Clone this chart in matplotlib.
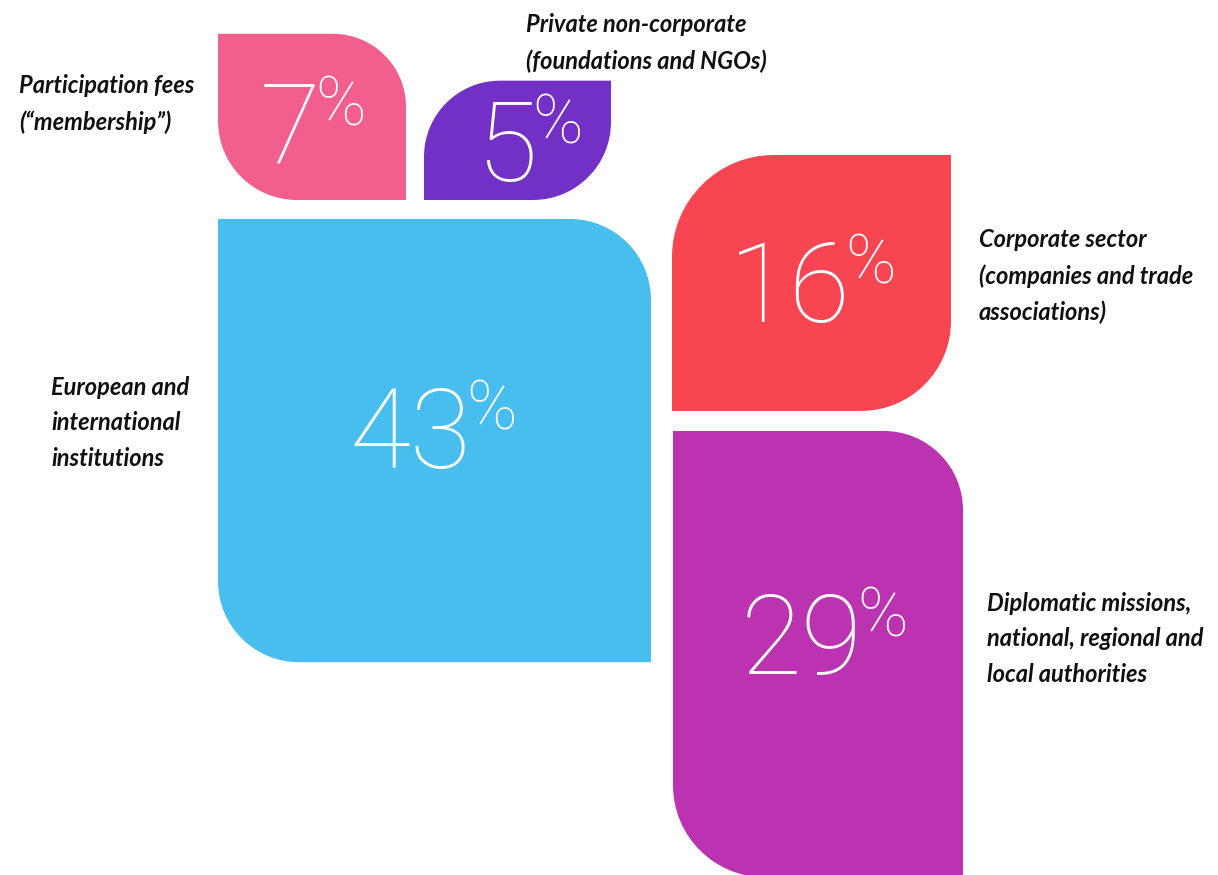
import matplotlib
matplotlib.use("Agg")
import matplotlib.pyplot as plt
from matplotlib.path import Path
from matplotlib.patches import PathPatch

# ---------------- data ----------------
categories = [
    "Participation fees\n(\u201cmembership\u201d)",
    "Private non-corporate\n(foundations and NGOs)",
    "European and\ninternational\ninstitutions",
    "Corporate sector\n(companies and trade\nassociations)",
    "Diplomatic missions,\nnational, regional and\nlocal authorities",
]
shares = [7, 5, 43, 16, 29]   # percent

# ---------------- style / layout ----------------
colors = ["#F25F8D", "#7230C6", "#48BEEE", "#F74552", "#BB33B0"]
W, H = 1218, 875
AREA_PER_PCT = 4463.0          # px^2 per percentage point (area-proportional tiles)
# left, width, anchor ('top'/'bottom'), anchor y, corner kind, r1, r2
layout = [
    dict(left=218, width=188, anchor="bottom", ay=200, kind="trbl", r1=73, r2=79),
    dict(left=424, width=187, anchor="bottom", ay=200, kind="tlbr", r1=76, r2=78),
    dict(left=218, width=433, anchor="top", ay=219, kind="trbl", r1=81, r2=81),
    dict(left=672, width=279, anchor="top", ay=155, kind="tlbr", r1=102, r2=90),
    dict(left=673, width=290, anchor="top", ay=431, kind="trbl", r1=79, r2=92),
]
# number label centre offsets from the tile centre
num_offsets = [(1, 8), (12, 2), (-1, -12), (1, 0), (6, -19)]
# category label anchor (left x, centre y)
cat_pos = [(19, 104), (526, 43), (51, 423), (979, 276), (987, 639)]

K = 0.5523


def leaf_path(x0, y0, w, h, r1, r2, kind):
    if kind == "trbl":
        verts = [
            (x0, y0),
            (x0 + w - r1, y0),
            (x0 + w - r1 + K * r1, y0), (x0 + w, y0 + r1 - K * r1), (x0 + w, y0 + r1),
            (x0 + w, y0 + h),
            (x0 + r2, y0 + h),
            (x0 + r2 - K * r2, y0 + h), (x0, y0 + h - r2 + K * r2), (x0, y0 + h - r2),
            (x0, y0),
        ]
        codes = [Path.MOVETO, Path.LINETO, Path.CURVE4, Path.CURVE4, Path.CURVE4,
                 Path.LINETO, Path.LINETO, Path.CURVE4, Path.CURVE4, Path.CURVE4,
                 Path.CLOSEPOLY]
    else:
        verts = [
            (x0, y0 + r1),
            (x0, y0 + r1 - K * r1), (x0 + r1 - K * r1, y0), (x0 + r1, y0),
            (x0 + w, y0),
            (x0 + w, y0 + h - r2),
            (x0 + w, y0 + h - r2 + K * r2), (x0 + w - r2 + K * r2, y0 + h), (x0 + w - r2, y0 + h),
            (x0, y0 + h),
            (x0, y0 + r1),
        ]
        codes = [Path.MOVETO, Path.CURVE4, Path.CURVE4, Path.CURVE4,
                 Path.LINETO, Path.LINETO, Path.CURVE4, Path.CURVE4, Path.CURVE4,
                 Path.LINETO, Path.CLOSEPOLY]
    return Path(verts, codes)


fig = plt.figure(figsize=(W / 100, H / 100), dpi=100)
fig.patch.set_facecolor("white")
ax = fig.add_axes([0, 0, 1, 1])
ax.set_xlim(0, W)
ax.set_ylim(H, 0)
ax.axis("off")
renderer = fig.canvas.get_renderer()

NUM_FONT = dict(family=["Roboto", "DejaVu Sans"], weight=100, color="white")
CAP_NUM = 78    # px cap height of digits
CAP_PCT = 46

for share, lay, col, off in zip(shares, layout, colors, num_offsets):
    w = lay["width"]
    h = share * AREA_PER_PCT / w
    y0 = lay["ay"] if lay["anchor"] == "top" else lay["ay"] - h
    x0 = lay["left"]
    ax.add_patch(PathPatch(leaf_path(x0, y0, w, h, lay["r1"], lay["r2"], lay["kind"]),
                           facecolor=col, edgecolor="none"))
    cx = x0 + w / 2 + off[0]
    cy = y0 + h / 2 + off[1]
    t1 = ax.text(0, 0, f"{share}", fontsize=80, ha="left", va="baseline", **NUM_FONT)
    t2 = ax.text(0, 0, "%", fontsize=49, ha="left", va="baseline", **NUM_FONT)
    w1 = t1.get_window_extent(renderer).width
    w2 = t2.get_window_extent(renderer).width
    gap = -5
    xs = cx - (w1 + gap + w2) / 2
    base = cy + CAP_NUM / 2
    t1.set_position((xs, base))
    t2.set_position((xs + w1 + gap, base - CAP_NUM - 6 + CAP_PCT))

for cat, (lx, ly) in zip(categories, cat_pos):
    ax.text(lx, ly, cat, fontsize=17, ha="left", va="center", linespacing=1.68,
            family=["Lato", "DejaVu Sans"], style="italic", weight="bold", color="#111111")

fig.savefig("out.png", dpi=100, facecolor="white")
